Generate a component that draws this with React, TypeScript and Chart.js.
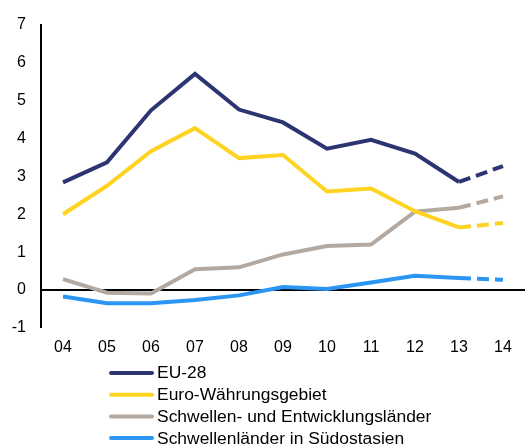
import React, { useEffect, useRef } from "react";
import { Chart, registerables } from "chart.js";

Chart.register(...registerables);

const categories = ["04", "05", "06", "07", "08", "09", "10", "11", "12", "13", "14"];
const eu28 = [2.84, 3.37, 4.74, 5.70, 4.76, 4.42, 3.73, 3.96, 3.60, 2.85, 3.27];
const euroArea = [2.0, 2.75, 3.66, 4.27, 3.48, 3.56, 2.60, 2.68, 2.08, 1.65, 1.77];
const emerging = [0.29, -0.07, -0.09, 0.55, 0.60, 0.94, 1.16, 1.20, 2.07, 2.17, 2.47];
const seAsia = [-0.17, -0.35, -0.35, -0.26, -0.14, 0.08, 0.03, 0.20, 0.38, 0.32, 0.27];
const seriesLabels = [
  "EU-28",
  "Euro-Währungsgebiet",
  "Schwellen- und Entwicklungsländer",
  "Schwellenländer in Südostasien",
];
const seriesColors = ["#2C3472", "#FFD322", "#B3A9A1", "#2B95F3"];
const yMin = -1;
const yMax = 7;

const FONT = "'Liberation Sans', Arial, sans-serif";

const legendPlugin = {
  id: "columnLegend",
  afterDraw(chart: any) {
    const ctx = chart.ctx;
    ctx.save();
    chart.data.datasets.forEach((ds: any, i: number) => {
      const y = 373 + i * 21.7;
      ctx.strokeStyle = ds.borderColor;
      ctx.lineWidth = 4;
      ctx.lineCap = "round";
      ctx.beginPath();
      ctx.moveTo(111, y);
      ctx.lineTo(152, y);
      ctx.stroke();
      ctx.save();
      ctx.translate(157, y + 1);
      ctx.scale(1.09, 1);
      ctx.fillStyle = "#000";
      ctx.font = "16px " + FONT;
      ctx.textBaseline = "middle";
      ctx.textAlign = "left";
      ctx.fillText(ds.label, 0, 0);
      ctx.restore();
    });
    ctx.restore();
  },
};

export default function App() {
  const ref = useRef<HTMLCanvasElement>(null);
  useEffect(() => {
    document.body.style.margin = "0";
    const dash = (c: any) => (c.p0DataIndex === categories.length - 2 ? [12, 6] : undefined);
    const mk = (label: string, data: number[], color: string) => ({
      label,
      data,
      borderColor: color,
      backgroundColor: color,
      borderWidth: 4,
      pointRadius: 0,
      tension: 0,
      segment: { borderDash: dash },
    });
    const chart = new Chart(ref.current!, {
      type: "line",
      data: {
        labels: categories,
        datasets: [
          mk(seriesLabels[0], eu28, seriesColors[0]),
          mk(seriesLabels[1], euroArea, seriesColors[1]),
          mk(seriesLabels[2], emerging, seriesColors[2]),
          mk(seriesLabels[3], seAsia, seriesColors[3]),
        ],
      },
      options: {
        animation: false,
        responsive: false,
        layout: { padding: { top: 20, right: 1, left: 0, bottom: 0 } },
        plugins: { legend: { display: false }, tooltip: { enabled: false } },
        scales: {
          x: {
            offset: true,
            grid: { display: false, drawTicks: false },
            border: { display: false },
            ticks: { color: "#000", font: { size: 16, family: FONT }, padding: 10, maxRotation: 0 },
            afterFit: (s: any) => {
              s.height = 117;
            },
          },
          y: {
            min: yMin,
            max: yMax,
            ticks: { stepSize: 1, color: "#000", font: { size: 16, family: FONT }, padding: 15 },
            grid: {
              drawTicks: false,
              color: (c: any) => (c.tick && c.tick.value === 0 ? "#000" : "rgba(0,0,0,0)"),
              lineWidth: (c: any) => (c.tick && c.tick.value === 0 ? 2 : 0),
            },
            border: { display: true, color: "#000", width: 2 },
            afterFit: (s: any) => {
              s.width = 41;
            },
          },
        },
      },
      plugins: [legendPlugin],
    });
    return () => chart.destroy();
  }, []);
  return <canvas ref={ref} width={526} height={445} style={{ display: "block" }} />;
}
